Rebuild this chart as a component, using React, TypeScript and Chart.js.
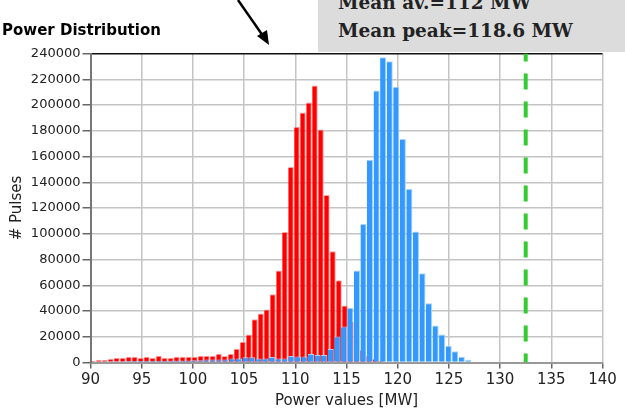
import React, { useEffect, useRef } from "react";
import { Chart, registerables } from "chart.js";

Chart.register(...registerables);

// ---- data ----
// bin centres (MW) and counts of the "average power" histogram (red)
const avBinsMW = [
  90.24, 90.83, 91.41, 92.0, 92.58, 93.17, 93.76, 94.34, 94.93, 95.51,
  96.1, 96.69, 97.27, 97.86, 98.44, 99.03, 99.62, 100.2, 100.79, 101.37,
  101.96, 102.55, 103.13, 103.72, 104.3, 104.89, 105.48, 106.06, 106.65, 107.23,
  107.82, 108.41, 108.99, 109.58, 110.16, 110.75, 111.34, 111.92, 112.51, 113.09,
  113.68, 114.27, 114.85, 115.44, 116.02, 116.61, 117.2, 117.78, 118.37,
];
const avCounts = [
  1200, 2000, 2000, 3000, 3700, 3700, 4500, 4500, 3700, 4500,
  3700, 5300, 3700, 3700, 4500, 4500, 4500, 4500, 5300, 5300,
  5300, 6800, 5000, 6800, 10700, 16200, 21800, 33500, 38000, 41100,
  53000, 71400, 101300, 151900, 183200, 194100, 201900, 215100, 180900, 130100,
  86500, 63900, 44200, 31700, 19300, 10000, 5500, 3000, 1200,
];

// bin centres (MW) and counts of the "peak power" histogram (blue)
const peakBinsMW = [
  90.42, 91.06, 91.7, 92.34, 92.98, 93.62, 94.26, 94.9, 95.54, 96.18,
  96.82, 97.46, 98.1, 98.74, 99.38, 100.02, 100.66, 101.3, 101.94, 102.58,
  103.22, 103.86, 104.5, 105.14, 105.78, 106.42, 107.06, 107.7, 108.34, 108.98,
  109.62, 110.26, 110.9, 111.54, 112.18, 112.82, 113.46, 114.1, 114.74, 115.38,
  116.02, 116.66, 117.3, 117.94, 118.58, 119.22, 119.86, 120.5, 121.14, 121.78,
  122.42, 123.06, 123.7, 124.34, 124.98, 125.62, 126.26, 126.9, 127.54,
];
const peakCounts = [
  500, 800, 900, 1000, 1000, 1100, 1200, 1200, 1300, 1300,
  1400, 1400, 1500, 1500, 1600, 1700, 1700, 2300, 2300, 2300,
  2300, 3200, 3200, 4000, 4000, 3200, 3200, 4300, 3200, 3200,
  5000, 4600, 4600, 6600, 5800, 5800, 10500, 20100, 27900, 42600,
  71400, 107500, 157500, 211200, 237000, 234000, 214100, 173600, 134700, 101800,
  69400, 46000, 28700, 21700, 13100, 8700, 4500, 2200, 700,
];

const limitMW = 132.5;
const xMin = 90;
const xMax = 140;
const xStep = 5;
const yMin = 0;
const yMax = 240000;
const yStep = 20000;

const chartTitle = "Power Distribution";
const meanAvText = "Mean av.=112 MW";
const meanPeakText = "Mean peak=118.6 MW";
const xTitle = "Power values [MW]";
const yTitle = "# Pulses";

const SANS = "'DejaVu Sans', Verdana, sans-serif";
const SERIF = "'DejaVu Serif', Georgia, serif";
const GRID = "#c4c4c4";

export default function App() {
  const canvasRef = useRef<HTMLCanvasElement | null>(null);

  useEffect(() => {
    const canvas = canvasRef.current;
    if (!canvas) return;
    const chart = new Chart(canvas, {
      type: "bar",
      data: {
        datasets: [
          {
            type: "line",
            label: "limit",
            data: [
              { x: limitMW, y: yMax },
              { x: limitMW, y: yMin },
            ],
            borderColor: "#33cc33",
            borderWidth: 4,
            borderDash: [16, 12],
            borderDashOffset: 8,
            pointRadius: 0,
            xAxisID: "x",
            yAxisID: "y",
            order: -1,
          } as any,
          {
            label: "peak",
            data: peakBinsMW.map((x, i) => ({ x, y: peakCounts[i] })),
            backgroundColor: "#3399ff",
            borderColor: "#a9d3ff",
            borderWidth: { top: 1, right: 1, left: 0, bottom: 0 },
            categoryPercentage: 1,
            barPercentage: 0.93,
            grouped: false,
            xAxisID: "x",
            yAxisID: "y",
            order: 0,
          } as any,
          {
            label: "av",
            data: avBinsMW.map((x, i) => ({ x, y: avCounts[i] })),
            backgroundColor: "#ff0000",
            borderColor: "#ffa0a0",
            borderWidth: { top: 1, right: 1, left: 0, bottom: 0 },
            categoryPercentage: 1,
            barPercentage: 0.93,
            grouped: false,
            xAxisID: "x2",
            yAxisID: "y",
            order: 1,
          } as any,
        ],
      },
      options: {
        animation: false,
        responsive: false,
        maintainAspectRatio: false,
        layout: { padding: { top: 53.5, right: 22.5, left: 0, bottom: 0 } },
        plugins: {
          legend: { display: false },
          tooltip: { enabled: false },
          title: { display: false },
        },
        scales: {
          x: {
            type: "linear",
            position: "bottom",
            offset: false,
            min: xMin,
            max: xMax,
            ticks: {
              stepSize: xStep,
              autoSkip: false,
              maxRotation: 0,
              padding: 3,
              color: "#222",
              font: { family: SANS, size: 15 },
            },
            grid: {
              display: true,
              drawOnChartArea: true,
              offset: false,
              color: GRID,
              lineWidth: 1.5,
              tickColor: "#666",
              tickLength: 6,
            },
            border: { color: "#999", width: 2 },
            title: {
              display: true,
              text: xTitle,
              color: "#222",
              font: { family: SANS, size: 15 },
              padding: { top: 0, bottom: 1 },
            },
            afterFit: (s: any) => {
              s.height = 48.5;
            },
          },
          x2: {
            type: "linear",
            display: false,
            offset: false,
            min: xMin,
            max: xMax,
            ticks: { stepSize: xStep },
            grid: { offset: false },
          },
          y: {
            type: "linear",
            min: yMin,
            max: yMax,
            ticks: {
              stepSize: yStep,
              padding: 2,
              color: "#222",
              font: { family: SANS, size: 13 },
              callback: (v: any) => String(v),
            },
            grid: {
              display: true,
              drawOnChartArea: true,
              color: (ctx: any) =>
                ctx.tick && ctx.tick.value === yMax ? "#111" : GRID,
              lineWidth: 1.5,
              tickColor: "#666",
              tickLength: 8,
            },
            border: { color: "#777", width: 2 },
            title: {
              display: true,
              text: yTitle,
              color: "#222",
              font: { family: SANS, size: 15 },
              padding: { top: 8, bottom: 0 },
            },
            afterFit: (s: any) => {
              s.width = 90.5;
            },
          },
        },
      } as any,
    });
    return () => chart.destroy();
  }, []);

  return (
    <div
      style={{
        position: "absolute",
        left: 0,
        top: 0,
        width: 625,
        height: 411,
        background: "#fff",
        overflow: "hidden",
      }}
    >
      <canvas
        ref={canvasRef}
        width={625}
        height={411}
        style={{ position: "absolute", left: 0, top: 0, width: 625, height: 411 }}
      />
      <div
        style={{
          position: "absolute",
          left: 2,
          top: 22,
          fontFamily: SANS,
          fontWeight: "bold",
          fontSize: 15,
          lineHeight: "16px",
          color: "#000",
          whiteSpace: "nowrap",
        }}
      >
        {chartTitle}
      </div>
      <div
        style={{
          position: "absolute",
          left: 318,
          top: 0,
          width: 307,
          height: 52,
          background: "#dcdcdc",
          overflow: "hidden",
        }}
      >
        <span
          style={{
            position: "absolute",
            left: 20,
            top: -6,
            fontFamily: SERIF,
            fontWeight: "bold",
            fontSize: 18.5,
            lineHeight: 1,
            color: "#222",
            whiteSpace: "nowrap",
          }}
        >
          {meanAvText}
        </span>
        <span
          style={{
            position: "absolute",
            left: 20,
            top: 22,
            fontFamily: SERIF,
            fontWeight: "bold",
            fontSize: 18.5,
            lineHeight: 1,
            color: "#222",
            whiteSpace: "nowrap",
          }}
        >
          {meanPeakText}
        </span>
      </div>
      <svg
        width={625}
        height={411}
        style={{ position: "absolute", left: 0, top: 0, pointerEvents: "none" }}
      >
        <line x1={238} y1={0} x2={263} y2={36} stroke="#000" strokeWidth={2.5} />
        <polygon points="269,45 257,36 267,30" fill="#000" />
      </svg>
    </div>
  );
}
